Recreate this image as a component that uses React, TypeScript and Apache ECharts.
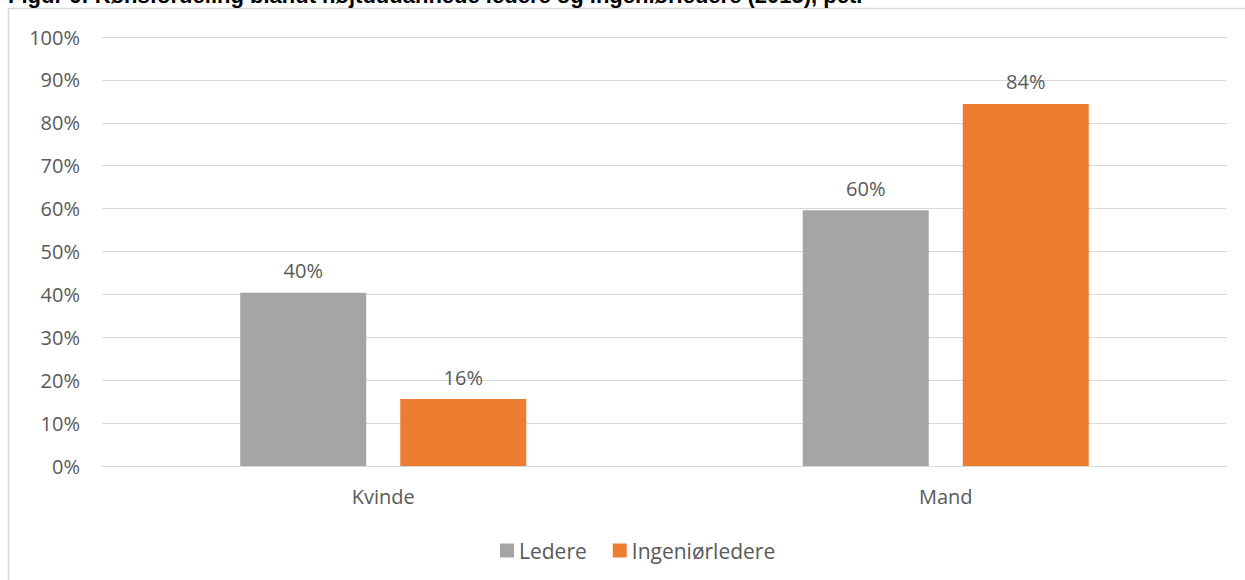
import React, { useEffect, useRef } from "react";
import * as echarts from "echarts";

const categories = ["Kvinde", "Mand"];
const ledere = [0.404, 0.596];
const ingeniorledere = [0.156, 0.844];
const seriesNames = ["Ledere", "Ingeniørledere"];
const titleText = "Figur 6: Kønsfordeling blandt højtuddannede ledere og ingeniørledere (2015), pct.";

const FONT = "'Open Sans', 'Noto Sans', sans-serif";
const TXT = "#595959";

export default function App() {
  const ref = useRef<HTMLDivElement>(null);
  useEffect(() => {
    const chart = echarts.init(ref.current!, null, { renderer: "svg" });
    const label = {
      show: true,
      position: "top",
      distance: 12,
      color: TXT,
      fontSize: 20,
      fontFamily: FONT,
      formatter: (p: any) => Math.round(p.value * 100) + "%",
    };
    chart.setOption({
      animation: false,
      backgroundColor: "#ffffff",
      graphic: [
        {
          type: "rect",
          shape: { x: 8.5, y: 8.5, width: 1300, height: 700 },
          style: { fill: "none", stroke: "#d9d9d9", lineWidth: 1.5 },
          silent: true,
        },
        {
          type: "text",
          x: 8,
          y: -5,
          style: {
            text: titleText,
            font: "bold 22px 'Liberation Sans', Arial, sans-serif",
            fill: "#000000",
            verticalAlign: "middle",
          },
          silent: true,
        },
      ],
      grid: { left: 102, right: 18, top: 37, bottom: 114, containLabel: false },
      legend: {
        data: seriesNames,
        top: 535,
        left: 495,
        itemWidth: 14,
        itemHeight: 14,
        itemGap: 26,
        icon: "rect",
        textStyle: { color: TXT, fontSize: 21, fontFamily: FONT },
      },
      xAxis: {
        type: "category",
        data: categories,
        axisLine: { show: true, lineStyle: { color: "#d9d9d9", width: 1 } },
        axisTick: { show: false },
        axisLabel: { color: TXT, fontSize: 20, fontFamily: FONT, margin: 20 },
      },
      yAxis: {
        type: "value",
        min: 0,
        max: 1,
        interval: 0.1,
        axisLine: { show: false },
        axisTick: { show: false },
        splitLine: { lineStyle: { color: "#d9d9d9", width: 1 } },
        axisLabel: {
          color: TXT,
          fontSize: 20,
          fontFamily: FONT,
          margin: 22,
          formatter: (v: number) => Math.round(v * 100) + "%",
        },
      },
      series: [
        {
          name: seriesNames[0],
          type: "bar",
          data: ledere,
          barWidth: 126,
          barGap: "27%",
          itemStyle: { color: "#a5a5a5" },
          label,
        },
        {
          name: seriesNames[1],
          type: "bar",
          data: ingeniorledere,
          barWidth: 126,
          barGap: "27%",
          itemStyle: { color: "#ed7d31" },
          label,
        },
      ],
    });
    return () => chart.dispose();
  }, []);
  return (
    <div
      ref={ref}
      style={{ position: "absolute", left: 0, top: 0, width: 1245, height: 580 }}
    />
  );
}
